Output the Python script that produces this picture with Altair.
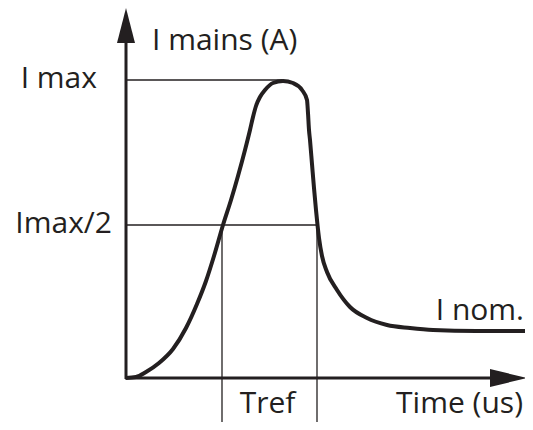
import altair as alt
import pandas as pd

# ---- values (abstract units: time, current) ----
curve_t = [0, 10, 20, 33, 47, 60, 71, 80, 88, 97, 105, 112, 119, 124, 127, 130, 134, 139,
           147, 157, 167, 176, 181, 182, 183, 184, 186, 188, 190, 191.5, 193, 196, 201, 211,
           224, 241, 261, 284, 307, 350, 407]
curve_i = [0, 1, 6, 15, 29, 50, 74, 97, 122, 153, 178, 202, 228, 248, 261, 272, 281, 288,
           295, 297, 295, 288, 278, 265, 248, 238, 214, 190, 168, 153, 140, 122, 106, 88,
           71, 60, 53, 50, 48, 47, 47]

I_MAX = 298        # peak current
I_HALF = 153       # half-peak level
I_NOM = 47         # nominal current
T_PEAK = 156       # time of the peak
T1, T2 = 96, 191   # half-peak crossing times (Tref)
Y_TOP = 370        # end of the current axis
X_END = 401        # end of the time axis
T_MIN, T_MAX = -118, 399
I_MIN, I_TOP = -44, 370

INK = "#231f20"
FONT = "Open Sans"
FS = 30

xs = alt.Scale(domain=[T_MIN, T_MAX], nice=False, zero=False)
ys = alt.Scale(domain=[I_MIN, I_TOP], nice=False, zero=False)


def X(f="t"):
    return alt.X(f"{f}:Q", scale=xs, axis=None)


def Y(f="i"):
    return alt.Y(f"{f}:Q", scale=ys, axis=None)


curve_df = pd.DataFrame({"t": curve_t, "i": curve_i, "o": range(len(curve_t))})
curve = alt.Chart(curve_df).mark_line(color=INK, strokeWidth=4, strokeCap="butt",
                                      strokeJoin="round", interpolate="monotone").encode(
    x=X(), y=Y(), order="o:Q")

# thin guide lines
hlines_df = pd.DataFrame({"t": [0, 0], "t2": [T_PEAK, T2], "i": [I_MAX, I_HALF]})
hlines = alt.Chart(hlines_df).mark_rule(color=INK, strokeWidth=1.3).encode(
    x=X(), x2="t2:Q", y=Y())

vlines_df = pd.DataFrame({"t": [T1, T2], "i": [I_HALF, I_HALF], "i2": [-47, -45]})
vlines = alt.Chart(vlines_df).mark_rule(color=INK, strokeWidth=1.3).encode(
    x=X(), y=Y(), y2="i2:Q")

# axes
yaxis = alt.Chart(pd.DataFrame({"t": [0], "i": [-1], "i2": [Y_TOP - 30]})).mark_rule(
    color=INK, strokeWidth=3).encode(x=X(), y=Y(), y2="i2:Q")
xaxis = alt.Chart(pd.DataFrame({"t": [-1], "t2": [X_END - 30], "i": [0]})).mark_rule(
    color=INK, strokeWidth=3).encode(x=X(), x2="t2:Q", y=Y())

up_arrow = alt.Chart(pd.DataFrame({"t": [0], "i": [Y_TOP]})).mark_point(
    shape="M0,0L0.514,2L-0.514,2Z", size=1225, filled=True, color=INK, opacity=1,
    strokeWidth=0).encode(x=X(), y=Y())
right_arrow = alt.Chart(pd.DataFrame({"t": [X_END], "i": [0]})).mark_point(
    shape="M0,0L-2,-0.486L-2,0.486Z", size=1369, filled=True, color=INK, opacity=1,
    strokeWidth=0).encode(x=X(), y=Y())


def label(text, t, i, align, dx, dy):
    return alt.Chart(pd.DataFrame({"t": [t], "i": [i], "s": [text]})).mark_text(
        font=FONT, fontSize=FS, color=INK, align=align, baseline="alphabetic",
        dx=dx, dy=dy).encode(x=X(), y=Y(), text="s:N")


labels = [
    label("I mains (A)", 0, Y_TOP, "left", 26, 42),
    label("I max", 0, I_MAX, "right", -29, 8),
    label("Imax/2", 0, I_HALF, "right", -14, 8),
    label("I nom.", X_END, I_NOM, "right", -3, -11),
    label("Tref", (T1 + T2) / 2, 0, "center", -2, 35),
    label("Time (us)", X_END, 0, "right", -4, 35),
]

chart = alt.layer(hlines, vlines, curve, yaxis, xaxis, up_arrow, right_arrow, *labels).properties(
    width=517, height=414, padding=0, autosize=alt.AutoSizeParams(type="none"),
    background="white"
).configure_view(strokeWidth=0)

chart.save("out.html", embed_options={"renderer": "svg", "actions": False})
